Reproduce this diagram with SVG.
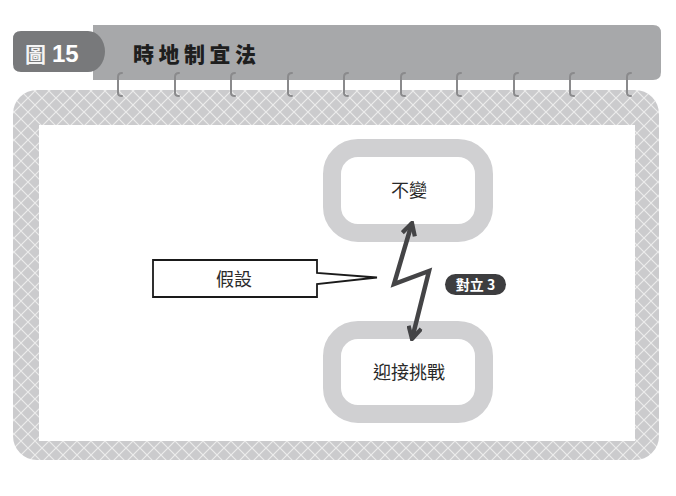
<svg xmlns="http://www.w3.org/2000/svg" width="676" height="496" viewBox="0 0 676 496">
<style>
.cjk{font-family:"Noto Sans CJK TC","Noto Sans CJK SC",sans-serif}
.node{fill:#fff;stroke:#d0d0d2;stroke-width:18}
.lbl{font-size:18px;fill:#2a2a2a;text-anchor:middle}
.ring{fill:none;stroke:#8a8a8c;stroke-width:2;stroke-linecap:round}
.conn{fill:none;stroke:#444446;stroke-width:4.5;stroke-linejoin:miter}
</style>
<defs>
<pattern id="hatch" patternUnits="userSpaceOnUse" width="14" height="14">
<rect width="14" height="14" fill="#cbcbcd"/>
<path d="M0,0 L14,14 M14,0 L0,14" stroke="#ececec" stroke-width="1.2"/>
</pattern>
<marker id="chev" viewBox="0 0 16 16" refX="14" refY="8" markerWidth="16" markerHeight="16" markerUnits="userSpaceOnUse" orient="auto-start-reverse">
<path d="M2,1.5 L14,8 L2,14.5" fill="none" stroke="#444446" stroke-width="4.2"/>
</marker>
</defs>
<rect width="676" height="496" fill="#fff"/>
<g id="frame">
<rect x="13" y="90" width="646" height="370" rx="24" fill="url(#hatch)"/>
<rect x="39" y="125" width="596" height="316" fill="#fff"/>
</g>
<g id="header">
<path d="M93,25 H653 Q661,25 661,33 V72 Q661,80 653,80 H93 Z" fill="#a7a8aa"/>
<path d="M21,31 H88 A17,20.5 0 0 1 88,72 H21 Q13,72 13,64 V39 Q13,31 21,31 Z" fill="#78797b"/>
<text x="25" y="62" class="cjk" font-size="21" font-weight="bold" fill="#f4f4f4">圖</text>
<text x="52" y="62" font-family="Liberation Sans, Arial, sans-serif" font-size="24" font-weight="bold" fill="#ffffff">15</text>
<text x="133" y="62" class="cjk" font-size="21" font-weight="900" fill="#1e1e1e" letter-spacing="4.5">時地制宜法</text>
</g>
<g id="rings">
<path class="ring" d="M122,73 Q118,73 118,77 V93 Q118,96 122,96"/>
<path class="ring" d="M179,73 Q175,73 175,77 V93 Q175,96 179,96"/>
<path class="ring" d="M235,73 Q231,73 231,77 V93 Q231,96 235,96"/>
<path class="ring" d="M292,73 Q288,73 288,77 V93 Q288,96 292,96"/>
<path class="ring" d="M348,73 Q344,73 344,77 V93 Q344,96 348,96"/>
<path class="ring" d="M405,73 Q401,73 401,77 V93 Q401,96 405,96"/>
<path class="ring" d="M461,73 Q457,73 457,77 V93 Q457,96 461,96"/>
<path class="ring" d="M518,73 Q514,73 514,77 V93 Q514,96 518,96"/>
<path class="ring" d="M574,73 Q570,73 570,77 V93 Q570,96 574,96"/>
<path class="ring" d="M631,73 Q627,73 627,77 V93 Q627,96 631,96"/>
</g>
<g id="node-bubian">
<rect class="node" x="332" y="148" width="152" height="85" rx="26"/>
<text class="cjk lbl" x="409" y="197">不變</text>
</g>
<g id="node-yingjie">
<rect class="node" x="332" y="330" width="152" height="84" rx="26"/>
<text class="cjk lbl" x="409" y="379">迎接挑戰</text>
</g>
<g id="node-jiashe">
<path d="M153,260 H317 V273 L377,277.5 L317,284 V297 H153 Z" fill="#fff" stroke="#1a1a1a" stroke-width="1.8" stroke-linejoin="miter"/>
<text class="cjk lbl" x="234" y="286">假設</text>
</g>
<g id="badge">
<rect x="445" y="274" width="61" height="21" rx="10.5" fill="#3d3d3f"/>
<text class="cjk" x="475.5" y="290" font-size="14" font-weight="bold" fill="#fff" text-anchor="middle">對立 3</text>
</g>
<g id="connectors">
<path class="conn" d="M412,223 L394,284 L429,271 L412,339" marker-start="url(#chev)" marker-end="url(#chev)"/>
</g>
</svg>
